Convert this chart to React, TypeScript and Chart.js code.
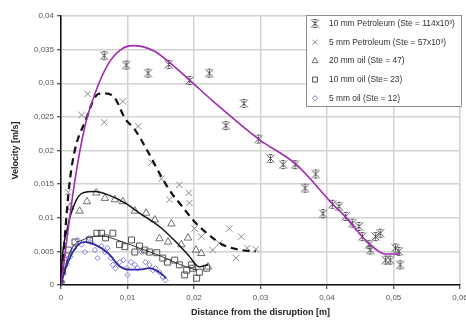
import React, { useEffect, useRef } from 'react';
import { Chart, registerables } from 'chart.js';
import { drawPoint } from 'chart.js/helpers';

Chart.register(...registerables);

// ---------- data (x = distance [m], y = velocity [m/s]) ----------
const xTicks = [0, 0.01, 0.02, 0.03, 0.04, 0.05, 0.06];
const yTicks = [0, 0.005, 0.01, 0.015, 0.02, 0.025, 0.03, 0.035, 0.04];

const legendLabels = [
  '10 mm Petroleum (Ste = 114x10³)',
  '5 mm Petroleum (Ste = 57x10³)',
  '20 mm oil (Ste = 47)',
  '10 mm oil (Ste= 23)',
  '5 mm oil (Ste = 12)',
];

const petroleum10: [number, number][] = [
  [0, 0], [0.0065, 0.0341], [0.0098, 0.0327], [0.0131, 0.0315], [0.0162, 0.0328],
  [0.0193, 0.0304], [0.0223, 0.0315], [0.0248, 0.0237], [0.0275, 0.027], [0.0297, 0.0217],
  [0.0315, 0.0188], [0.0334, 0.0179], [0.0352, 0.0179], [0.0383, 0.0165], [0.0367, 0.0144],
  [0.0394, 0.0106], [0.0408, 0.012], [0.0418, 0.0117], [0.0428, 0.0102], [0.0438, 0.0092],
  [0.0448, 0.0087], [0.0453, 0.0072], [0.0463, 0.006], [0.0465, 0.0052], [0.0473, 0.0072],
  [0.048, 0.0077], [0.0488, 0.0037], [0.0495, 0.0037], [0.0503, 0.0055], [0.0508, 0.005],
  [0.051, 0.003],
];
const petroleum10Fit: [number, number][] = [
  [0, 0], [0.0021, 0.0156], [0.0036, 0.0236], [0.0052, 0.0287], [0.007, 0.0327],
  [0.009, 0.035], [0.0108, 0.0356], [0.014, 0.0348], [0.0163, 0.0331], [0.0193, 0.0305],
  [0.023, 0.0272], [0.0297, 0.0217], [0.0354, 0.0179], [0.0407, 0.0122], [0.0427, 0.0102],
  [0.0463, 0.0062], [0.0488, 0.0046], [0.051, 0.0046],
];

const petroleum5: [number, number][] = [
  [0.0011, 0.0138], [0.0031, 0.0253], [0.004, 0.0284], [0.0065, 0.0242], [0.0093, 0.0273],
  [0.0116, 0.0236], [0.0136, 0.0182], [0.0151, 0.0158], [0.0163, 0.0127], [0.0178, 0.0149],
  [0.0192, 0.0137], [0.0193, 0.0122], [0.0201, 0.0084], [0.0211, 0.0072], [0.0228, 0.0052],
  [0.0238, 0.0062], [0.0253, 0.0084], [0.0263, 0.004], [0.0271, 0.0072], [0.028, 0.0055],
  [0.0293, 0.0053],
];
const petroleum5Fit: [number, number][] = [
  [0, 0], [0.0014, 0.0161], [0.0039, 0.025], [0.0056, 0.0284], [0.0066, 0.0285],
  [0.0081, 0.0278], [0.0096, 0.0248], [0.0111, 0.0231], [0.0128, 0.0203], [0.0151, 0.0161],
  [0.0166, 0.0137], [0.0178, 0.0122], [0.0201, 0.0094], [0.0223, 0.0074], [0.0243, 0.006],
  [0.0271, 0.0052], [0.0293, 0.005],
];

const oil20: [number, number][] = [
  [0.0002, 0.0019], [0.0005, 0.004], [0.0014, 0.0116], [0.0028, 0.011], [0.0039, 0.0124],
  [0.0053, 0.0137], [0.0066, 0.0129], [0.0081, 0.0127], [0.0093, 0.0124], [0.0111, 0.011],
  [0.0128, 0.0107], [0.0141, 0.0097], [0.0148, 0.0069], [0.0161, 0.0064], [0.0166, 0.0091],
  [0.0181, 0.006], [0.0191, 0.007], [0.0203, 0.0052], [0.0211, 0.0047], [0.0221, 0.0027],
];
const oil20Fit: [number, number][] = [
  [0, 0], [0.0001, 0.0027], [0.0009, 0.0082], [0.0021, 0.0122], [0.0033, 0.0137],
  [0.0051, 0.0139], [0.0071, 0.0134], [0.0096, 0.0122], [0.0118, 0.0107], [0.0148, 0.0087],
  [0.0173, 0.0064], [0.0191, 0.0045], [0.0208, 0.0027], [0.0221, 0.003],
];

const oil10: [number, number][] = [
  [0, 0.0002], [0.0002, 0.0022], [0.0011, 0.0052], [0.0021, 0.0064], [0.0043, 0.0067],
  [0.0054, 0.0077], [0.0061, 0.0077], [0.0067, 0.007], [0.0078, 0.0077], [0.0088, 0.006],
  [0.0096, 0.0057], [0.0106, 0.0067], [0.0111, 0.0049], [0.0118, 0.0058], [0.0126, 0.0052],
  [0.0133, 0.0049], [0.0144, 0.0048], [0.0153, 0.004], [0.016, 0.0034], [0.0171, 0.0037],
  [0.0178, 0.003], [0.0186, 0.0015], [0.0189, 0.0022], [0.0196, 0.003], [0.0198, 0.0025],
  [0.0204, 0.001], [0.0208, 0.0019], [0.0219, 0.0025],
];
const oil10Fit: [number, number][] = [
  [0, 0.0005], [0.0015, 0.0052], [0.0035, 0.0068], [0.006, 0.0073], [0.009, 0.0065],
  [0.012, 0.0054], [0.015, 0.0043], [0.018, 0.003], [0.0205, 0.0022],
];

const oil5: [number, number][] = [
  [0, 0.0005], [0.0003, 0.0019], [0.0009, 0.0031], [0.0014, 0.0042], [0.002, 0.0055],
  [0.0025, 0.0067], [0.0031, 0.006], [0.0036, 0.0049], [0.0042, 0.007], [0.0046, 0.0063],
  [0.0051, 0.0052], [0.0055, 0.004], [0.0061, 0.0058], [0.0066, 0.0049], [0.007, 0.0055],
  [0.0075, 0.004], [0.0078, 0.003], [0.0082, 0.0025], [0.0088, 0.0034], [0.0094, 0.0037],
  [0.0099, 0.0025], [0.01, 0.0015], [0.0105, 0.0034], [0.0111, 0.003], [0.0115, 0.0025],
  [0.0121, 0.0049], [0.0127, 0.0034], [0.0133, 0.003], [0.0138, 0.0022], [0.0142, 0.0025],
  [0.0148, 0.0019], [0.0153, 0.0012], [0.0157, 0.0007],
];
const oil5Fit: [number, number][] = [
  [0, 0], [0.0006, 0.0022], [0.0014, 0.0042], [0.0026, 0.006], [0.0036, 0.0064],
  [0.0051, 0.006], [0.0071, 0.0047], [0.0088, 0.0028], [0.0103, 0.0023], [0.0118, 0.0023],
  [0.0133, 0.0025], [0.0146, 0.002], [0.0153, 0.0015], [0.0158, 0.001],
];

const FONT = 'Arial, "Liberation Sans", sans-serif';

const fmt = (v: number) => String(Number(Number(v).toFixed(4))).replace('.', ',');
const pts = (a: [number, number][]) => a.map(([x, y]) => ({ x, y }));

function makeStar(): HTMLCanvasElement {
  const c = document.createElement('canvas');
  c.width = 11;
  c.height = 11;
  const g = c.getContext('2d')!;
  g.strokeStyle = '#555';
  g.lineWidth = 1;
  g.beginPath();
  g.moveTo(1.5, 1.5); g.lineTo(9.5, 9.5);
  g.moveTo(9.5, 1.5); g.lineTo(1.5, 9.5);
  g.moveTo(5.5, 2.5); g.lineTo(5.5, 8.5);
  g.moveTo(3.5, 1.5); g.lineTo(7.5, 1.5);
  g.moveTo(3.5, 9.5); g.lineTo(7.5, 9.5);
  g.stroke();
  return c;
}

export default function App() {
  const ref = useRef<HTMLCanvasElement | null>(null);

  useEffect(() => {
    document.body.style.margin = '0';
    const star = makeStar();
    const markerStyles: any[] = [
      { pointStyle: star, radius: 5, borderWidth: 1, borderColor: '#555', backgroundColor: 'rgba(0,0,0,0)' },
      { pointStyle: 'crossRot', radius: 4.5, borderWidth: 1, borderColor: '#8a8a8a', backgroundColor: 'rgba(0,0,0,0)' },
      { pointStyle: 'triangle', radius: 4.3, borderWidth: 1, borderColor: '#707070', backgroundColor: 'rgba(255,255,255,0)' },
      { pointStyle: 'rect', radius: 4.2, borderWidth: 1, borderColor: '#555', backgroundColor: 'rgba(255,255,255,0)' },
      { pointStyle: 'rectRot', radius: 2.7, borderWidth: 1, borderColor: '#8080d8', backgroundColor: 'rgba(255,255,255,0)' },
    ];
    const series = [petroleum10, petroleum5, oil20, oil10, oil5];

    const scatterSets = series.map((s, i) => ({
      label: legendLabels[i],
      data: pts(s),
      showLine: false,
      pointStyle: markerStyles[i].pointStyle,
      pointRadius: markerStyles[i].radius,
      pointBorderWidth: markerStyles[i].borderWidth,
      pointBorderColor: markerStyles[i].borderColor,
      pointBackgroundColor: markerStyles[i].backgroundColor,
      borderColor: markerStyles[i].borderColor,
      backgroundColor: markerStyles[i].backgroundColor,
      order: 2,
    }));

    const line = (data: [number, number][], color: string, width: number, dash: number[] = []) => ({
      label: '',
      data: pts(data),
      showLine: true,
      pointRadius: 0,
      borderColor: color,
      borderWidth: width,
      borderDash: dash,
      fill: false,
      cubicInterpolationMode: 'monotone',
      order: 1,
    });

    const fitSets = [
      line(petroleum10Fit, '#a22ab0', 1.6),
      line(petroleum5Fit, '#111', 2.2, [7, 5]),
      line(oil20Fit, '#111', 1.5),
      line(oil10Fit, '#333', 1),
      line(oil5Fit, '#2a2aa8', 1.8),
    ];

    const legendPlugin = {
      id: 'boxLegend',
      afterDraw(chart: any) {
        const { ctx, chartArea } = chart;
        const w = 156;
        const h = 92;
        const x0 = Math.round(chartArea.right - w + 2);
        const y0 = Math.round(chartArea.top - 1);
        ctx.save();
        ctx.fillStyle = '#fff';
        ctx.fillRect(x0, y0, w, h);
        ctx.strokeStyle = '#8c8c8c';
        ctx.lineWidth = 1;
        ctx.strokeRect(x0 + 0.5, y0 + 0.5, w - 1, h - 1);
        ctx.font = `8.4px ${FONT}`;
        ctx.textBaseline = 'middle';
        ctx.textAlign = 'left';
        legendLabels.forEach((lab, i) => {
          const y = y0 + 8.5 + i * 18.7;
          const m = markerStyles[i];
          ctx.strokeStyle = m.borderColor;
          ctx.fillStyle = m.backgroundColor;
          ctx.lineWidth = m.borderWidth;
          drawPoint(ctx, { pointStyle: m.pointStyle, radius: Math.min(m.radius, 3.5), borderWidth: m.borderWidth, rotation: 0 }, x0 + 9, y);
          ctx.fillStyle = '#333';
          ctx.fillText(lab, x0 + 23, y);
        });
        ctx.restore();
      },
    };

    const chart = new Chart(ref.current!, {
      type: 'scatter',
      data: { datasets: [...fitSets, ...scatterSets] as any },
      options: {
        animation: false,
        responsive: false,
        maintainAspectRatio: false,
        layout: { padding: { top: 16, right: 5, left: 0, bottom: 0 } },
        plugins: { legend: { display: false }, tooltip: { enabled: false } },
        scales: {
          x: {
            type: 'linear',
            min: xTicks[0],
            max: xTicks[xTicks.length - 1],
            afterBuildTicks: (s: any) => { s.ticks = xTicks.map((v) => ({ value: v })); },
            ticks: { callback: (v: any) => fmt(v), font: { size: 8, family: FONT }, color: '#555', padding: 4, maxRotation: 0, autoSkip: false },
            grid: { color: '#d2d2d2', lineWidth: 1.5, tickLength: 4, tickColor: '#222', tickWidth: 1 },
            border: { color: '#111', width: 1.5 },
            title: { display: true, text: 'Distance from the disruption [m]', font: { size: 9, weight: 'bold', family: FONT }, color: '#222', padding: { top: 0, bottom: 5.5 } },
            afterFit: (s: any) => { s.height = 38; s.paddingLeft = 0; s.paddingRight = 0; },
          },
          y: {
            type: 'linear',
            min: yTicks[0],
            max: yTicks[yTicks.length - 1],
            afterBuildTicks: (s: any) => { s.ticks = yTicks.map((v) => ({ value: v })); },
            ticks: { callback: (v: any) => fmt(v), font: { size: 8, family: FONT }, color: '#555', padding: 3, autoSkip: false },
            grid: { color: '#d2d2d2', lineWidth: 1.5, tickLength: 4, tickColor: '#222', tickWidth: 1 },
            border: { color: '#111', width: 1.5 },
            title: { display: true, text: 'Velocity [m/s]', font: { size: 9, weight: 'bold', family: FONT }, color: '#222', padding: { top: 10, bottom: 0 } },
            afterFit: (s: any) => { s.width = 61; s.paddingTop = 0; s.paddingBottom = 0; },
          },
        },
      } as any,
      plugins: [legendPlugin],
    });
    return () => chart.destroy();
  }, []);

  return (
    <div style={{ width: 466, height: 323 }}>
      <canvas ref={ref} width={466} height={323} style={{ display: 'block' }} />
    </div>
  );
}
